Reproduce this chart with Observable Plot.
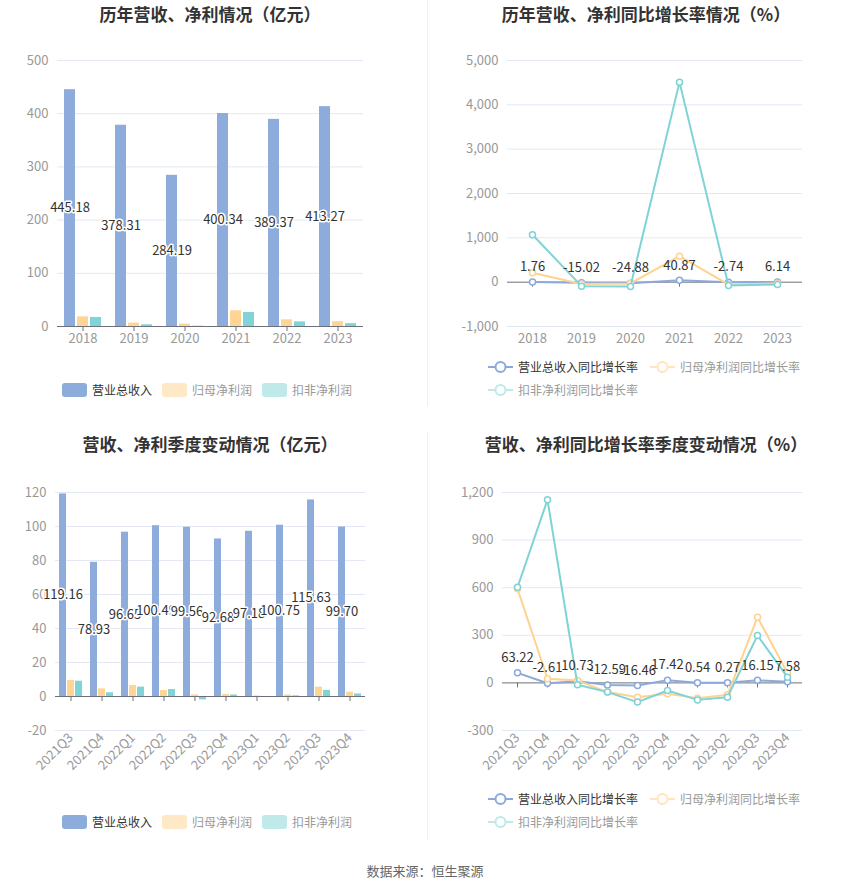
<!DOCTYPE html>
<html>
<head>
<meta charset="utf-8">
<script src="https://cdn.jsdelivr.net/npm/d3@7"></script>
<script src="https://cdn.jsdelivr.net/npm/@observablehq/plot@0.6"></script>
<style>
  body { margin: 0; background: #fff; font-family: "Microsoft YaHei", "Noto Sans CJK SC", sans-serif; }
  #root { position: relative; width: 850px; height: 891px; overflow: hidden; background: #fff; }
  .title { position: absolute; font-size: 17px; font-weight: bold; color: #333; text-align: center; line-height: 20px; white-space: nowrap; }
  .chart { position: absolute; }
  .legend { position: absolute; font-size: 12px; line-height: 14px; white-space: nowrap; }
  .item { position: absolute; display: flex; align-items: center; }
  .sw { width: 25px; height: 14px; border-radius: 3px; margin-right: 5px; }
  .divider { position: absolute; left: 427px; width: 1px; background: #eef0f4; }
  .source { position: absolute; left: 0; width: 850px; top: 861px; text-align: center; font-size: 13px; color: #666; }
</style>
</head>
<body>
<div id="root"></div>
<script>
// ---------- data ----------
const years = ["2018", "2019", "2020", "2021", "2022", "2023"];
const annualRevenue = [445.18, 378.31, 284.19, 400.34, 389.37, 413.27];
const annualNetProfit = [18.2, 6.3, 4.5, 29.5, 12.6, 9.0];
const annualDeductedProfit = [17.0, 3.2, 0.6, 26.3, 8.7, 5.4];
const annualRevenueGrowth = [1.76, -15.02, -24.88, 40.87, -2.74, 6.14];
const annualNetProfitGrowth = [212, -40, -30, 586, -55, -25];
const annualDeductedGrowth = [1070, -90, -95, 4512, -75, -52];

const quarters = ["2021Q3", "2021Q4", "2022Q1", "2022Q2", "2022Q3", "2022Q4", "2023Q1", "2023Q2", "2023Q3", "2023Q4"];
const quarterRevenue = [119.16, 78.93, 96.65, 100.49, 99.56, 92.68, 97.18, 100.75, 115.63, 99.70];
const quarterNetProfit = [9.4, 4.5, 6.5, 3.5, 1.0, 1.2, 0.3, 0.9, 5.5, 2.5];
const quarterDeductedProfit = [9.0, 2.2, 5.5, 4.1, -2.0, 0.9, -0.3, 0.4, 3.6, 1.5];
const quarterRevenueGrowth = [63.22, -2.61, 10.73, -12.59, -16.46, 17.42, 0.54, 0.27, 16.15, 7.58];
const quarterNetProfitGrowth = [593, 26, 15, -58, -90, -69, -96, -75, 414, 62];
const quarterDeductedGrowth = [603, 1154, -12, -58, -121, -48, -107, -90, 299, 36];

const barSeries = ["营业总收入", "归母净利润", "扣非净利润"];
const lineSeries = ["营业总收入同比增长率", "归母净利润同比增长率", "扣非净利润同比增长率"];

const titles = ["历年营收、净利情况（亿元）", "历年营收、净利同比增长率情况（%）",
                "营收、净利季度变动情况（亿元）", "营收、净利同比增长率季度变动情况（%）"];

const yTicks1 = [0, 100, 200, 300, 400, 500];
const yTicks2 = [-1000, 0, 1000, 2000, 3000, 4000, 5000];
const yTicks3 = [-20, 0, 20, 40, 60, 80, 100, 120];
const yTicks4 = [-300, 0, 300, 600, 900, 1200];

// ---------- style ----------
const barColors = ["#8DACDB", "#FFD596", "#80D4D8"];
const lineColors = ["#8CA9DC", "#FFD38F", "#7FD3D6"];
const FONT = '"Microsoft YaHei", "Noto Sans CJK SC", sans-serif';
const GRID = "#E3E8F4";
const AXIS = "#6E7079";
const fmt = d => d.toLocaleString("en-US");

const root = document.getElementById("root");

function place(el, left, top) {
  el.classList.add("chart");
  el.style.left = left + "px";
  el.style.top = top + "px";
  root.appendChild(el);
}

function barChart(cats, rev, np, dp, yDomain, yTicks, opts) {
  const data = [];
  cats.forEach((c, i) => {
    data.push({cat: c, s: barSeries[0], v: rev[i]});
    data.push({cat: c, s: barSeries[1], v: np[i]});
    data.push({cat: c, s: barSeries[2], v: dp[i]});
  });
  return Plot.plot({
    width: 425, height: opts.height,
    marginLeft: 55, marginRight: 60, marginTop: opts.marginTop, marginBottom: opts.marginBottom,
    style: {fontFamily: FONT, fontSize: "13px", background: "transparent", overflow: "visible"},
    fx: {domain: cats, padding: 0, label: null, axis: null},
    x: {domain: barSeries, paddingInner: 0.18, paddingOuter: 0.43, axis: null},
    y: {domain: yDomain, label: null},
    color: {domain: barSeries, range: barColors},
    marks: [
      Plot.ruleY(yTicks.filter(t => t !== 0), {stroke: GRID}),
      Plot.axisY({ticks: yTicks, tickSize: 0, tickPadding: 9, tickFormat: fmt, label: null, fill: "#999", fontSize: 13}),
      Plot.axisFx({anchor: "bottom", tickSize: 0, tickPadding: opts.tickPadding, label: null, fill: "#999", fontSize: 13, tickRotate: opts.rotate || 0}),
      Plot.barY(data, {fx: "cat", x: "s", y: "v", fill: "s"}),
      Plot.ruleY([0], {stroke: AXIS}),
      Plot.ruleX([barSeries[1]], {x: d => d, y1: 0, y2: 0, insetBottom: -5, stroke: AXIS}),
      Plot.text(data.filter(d => d.s === barSeries[0]), {
        fx: "cat", x: "s", y: d => d.v / 2, text: d => d.v.toFixed(2),
        fill: "#333", stroke: "white", strokeWidth: 3, fontSize: 13
      })
    ]
  });
}

function lineChart(cats, series, yDomain, yTicks, opts) {
  const data = [];
  series.forEach((vals, k) => cats.forEach((c, i) => data.push({cat: c, s: lineSeries[k], v: vals[i]})));
  const marks = [
    Plot.ruleY(yTicks.filter(t => t !== 0), {stroke: GRID}),
    Plot.axisY({ticks: yTicks, tickSize: 0, tickPadding: 9, tickFormat: fmt, label: null, fill: "#999", fontSize: 13}),
    Plot.axisX({anchor: "bottom", tickSize: 0, tickPadding: opts.tickPadding, label: null, fill: "#999", fontSize: 13, tickRotate: opts.rotate || 0}),
    Plot.ruleY([0], {stroke: AXIS}),
    Plot.ruleX(cats, {x: d => d, y1: 0, y2: 0, insetBottom: -5, stroke: AXIS})
  ];
  lineSeries.forEach((s, k) => {
    const sub = data.filter(d => d.s === s);
    marks.push(Plot.line(sub, {x: "cat", y: "v", stroke: lineColors[k], strokeWidth: 2}));
    marks.push(Plot.dot(sub, {x: "cat", y: "v", r: 3, fill: "white", stroke: lineColors[k], strokeWidth: 1.5}));
  });
  marks.push(Plot.text(data.filter(d => d.s === lineSeries[0]), {
    x: "cat", y: "v", dy: -15, text: d => d.v.toFixed(2), fill: "#333", fontSize: 13
  }));
  return Plot.plot({
    width: 425, height: opts.height,
    marginLeft: opts.marginLeft, marginRight: 48, marginTop: opts.marginTop, marginBottom: opts.marginBottom,
    style: {fontFamily: FONT, fontSize: "13px", background: "transparent", overflow: "visible"},
    x: {domain: cats, type: "point", padding: 0.5, label: null},
    y: {domain: yDomain, label: null},
    marks
  });
}

function title(text, cx, top) {
  const d = document.createElement("div");
  d.className = "title";
  d.textContent = text;
  d.style.left = (cx - 250) + "px";
  d.style.width = "500px";
  d.style.top = top + "px";
  root.appendChild(d);
}

function barLegend(top) {
  const lg = document.createElement("div");
  lg.className = "legend";
  lg.style.left = "0px"; lg.style.top = (top - 7) + "px";
  const sw = ["#8CACDB", "#FFE8C6", "#C0EAEA"];
  const tc = ["#333", "#999", "#999"];
  barSeries.forEach((s, k) => {
    const it = document.createElement("div");
    it.className = "item";
    it.style.left = (62 + 100 * k) + "px";
    it.innerHTML = `<div class="sw" style="background:${sw[k]}"></div><span style="color:${tc[k]}">${s}</span>`;
    lg.appendChild(it);
  });
  root.appendChild(lg);
}

function lineLegend(top) {
  const lg = document.createElement("div");
  lg.className = "legend";
  lg.style.left = "425px"; lg.style.top = (top - 7) + "px";
  const ic = ["#8CA9DC", "#FFE4BD", "#BDE9EA"];
  const tc = ["#333", "#999", "#999"];
  const pos = [[63, 0], [225, 0], [63, 23]];
  lineSeries.forEach((s, k) => {
    const it = document.createElement("div");
    it.className = "item";
    it.style.left = pos[k][0] + "px";
    it.style.top = pos[k][1] + "px";
    it.innerHTML = `<svg width="25" height="14" style="margin-right:5px"><line x1="0" x2="25" y1="7" y2="7" stroke="${ic[k]}" stroke-width="2"/><circle cx="12.5" cy="7" r="5" fill="white" stroke="${ic[k]}" stroke-width="2"/></svg><span style="color:${tc[k]}">${s}</span>`;
    lg.appendChild(it);
  });
  root.appendChild(lg);
}

// dividers
[[0, 406], [432, 408]].forEach(([t, h]) => {
  const d = document.createElement("div");
  d.className = "divider"; d.style.top = t + "px"; d.style.height = h + "px";
  root.appendChild(d);
});

// titles
title(titles[0], 210, 4);
title(titles[1], 646, 4);
title(titles[2], 210, 434);
title(titles[3], 646, 434);

// charts
place(barChart(years, annualRevenue, annualNetProfit, annualDeductedProfit, [0, 500], yTicks1,
  {height: 320, marginTop: 20, marginBottom: 34, tickPadding: 7}), 0, 40);
place(lineChart(years, [annualRevenueGrowth, annualNetProfitGrowth, annualDeductedGrowth], [-1000, 5000], yTicks2,
  {height: 320, marginTop: 20, marginBottom: 34, marginLeft: 82, tickPadding: 7}), 425, 40);
place(barChart(quarters, quarterRevenue, quarterNetProfit, quarterDeductedProfit, [-20, 120], yTicks3,
  {height: 330, marginTop: 22, marginBottom: 70, tickPadding: 5, rotate: -45}), 0, 470);
place(lineChart(quarters, [quarterRevenueGrowth, quarterNetProfitGrowth, quarterDeductedGrowth], [-300, 1200], yTicks4,
  {height: 330, marginTop: 22, marginBottom: 70, marginLeft: 77, tickPadding: 5, rotate: -45}), 425, 470);

// legends
barLegend(390);
lineLegend(367);
barLegend(822);
lineLegend(799);

// source
const src = document.createElement("div");
src.className = "source";
src.textContent = "数据来源：恒生聚源";
root.appendChild(src);
</script>
</body>
</html>
